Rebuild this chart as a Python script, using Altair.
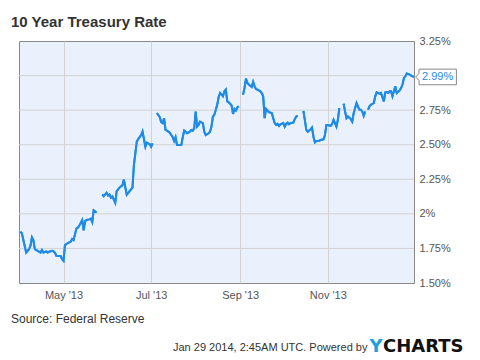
import altair as alt
import pandas as pd

# ---- data (None marks a break in the line) ----
dates = [
    "2013-04-01", "2013-04-02", "2013-04-05", "2013-04-07", "2013-04-08", "2013-04-09", "2013-04-10",
    "2013-04-11", "2013-04-13", "2013-04-15", "2013-04-16", "2013-04-17", "2013-04-19", "2013-04-20",
    "2013-04-21", "2013-04-23", "2013-04-24", "2013-04-25", "2013-04-26", "2013-04-28", "2013-04-29",
    "2013-04-30", "2013-05-01", "2013-05-02", "2013-05-04", "2013-05-06", "2013-05-07", "2013-05-08",
    "2013-05-10", "2013-05-11", "2013-05-12", "2013-05-14", "2013-05-15", "2013-05-16", "2013-05-17",
    "2013-05-19", "2013-05-20", "2013-05-21", "2013-05-22", "2013-05-24", "2013-05-26",
    "2013-05-28", "2013-05-29", "2013-05-31", "2013-06-01", "2013-06-02", "2013-06-03", "2013-06-04",
    "2013-06-06", "2013-06-07", "2013-06-09", "2013-06-10", "2013-06-11", "2013-06-12", "2013-06-14",
    "2013-06-16", "2013-06-18", "2013-06-19", "2013-06-21", "2013-06-22", "2013-06-24", "2013-06-25",
    "2013-06-27", "2013-06-28", "2013-06-30", "2013-07-01", "2013-07-02", "2013-07-04",
    "2013-07-05", "2013-07-07", "2013-07-08", "2013-07-09", "2013-07-10", "2013-07-11", "2013-07-12",
    "2013-07-14", "2013-07-15", "2013-07-16", "2013-07-17", "2013-07-18", "2013-07-19", "2013-07-20",
    "2013-07-22", "2013-07-23", "2013-07-24", "2013-07-25", "2013-07-26", "2013-07-28", "2013-07-29",
    "2013-07-30", "2013-07-31", "2013-08-01", "2013-08-02", "2013-08-03", "2013-08-04", "2013-08-06",
    "2013-08-07", "2013-08-08", "2013-08-10", "2013-08-11", "2013-08-12", "2013-08-13", "2013-08-14",
    "2013-08-16", "2013-08-17", "2013-08-18", "2013-08-19", "2013-08-20", "2013-08-21", "2013-08-22",
    "2013-08-23", "2013-08-24", "2013-08-25", "2013-08-26", "2013-08-27", "2013-08-28", "2013-08-29",
    "2013-08-30", "2013-08-31", "2013-09-01",
    "2013-09-03", "2013-09-04", "2013-09-05", "2013-09-06", "2013-09-07", "2013-09-09", "2013-09-10",
    "2013-09-11", "2013-09-12", "2013-09-14", "2013-09-15", "2013-09-16", "2013-09-17", "2013-09-18",
    "2013-09-19", "2013-09-20", "2013-09-21", "2013-09-23", "2013-09-24", "2013-09-25", "2013-09-26",
    "2013-09-27", "2013-09-28", "2013-09-29", "2013-10-01", "2013-10-02", "2013-10-03", "2013-10-04",
    "2013-10-05", "2013-10-06", "2013-10-08", "2013-10-09", "2013-10-10", "2013-10-11", "2013-10-13",
    "2013-10-15", "2013-10-16", "2013-10-17", "2013-10-18", "2013-10-20", "2013-10-21", "2013-10-22",
    "2013-10-23", "2013-10-24", "2013-10-26", "2013-10-27", "2013-10-29", "2013-10-30", "2013-10-31",
    "2013-11-01", "2013-11-03", "2013-11-04", "2013-11-05", "2013-11-06", "2013-11-07", "2013-11-08",
    "2013-11-09", "2013-11-11",
    "2013-11-12", "2013-11-13", "2013-11-14", "2013-11-15", "2013-11-17", "2013-11-18", "2013-11-19",
    "2013-11-21", "2013-11-22", "2013-11-23", "2013-11-24", "2013-11-25", "2013-11-26", "2013-11-27",
    "2013-11-28",
    "2013-11-29", "2013-11-30", "2013-12-01", "2013-12-03", "2013-12-04", "2013-12-05", "2013-12-06",
    "2013-12-07", "2013-12-08", "2013-12-10", "2013-12-11", "2013-12-12", "2013-12-13", "2013-12-14",
    "2013-12-15", "2013-12-16", "2013-12-17", "2013-12-18", "2013-12-19", "2013-12-21", "2013-12-22",
    "2013-12-23", "2013-12-24", "2013-12-25", "2013-12-26", "2013-12-28", "2013-12-29", "2013-12-30",
    "2013-12-31",
]
rates = [
    1.87, 1.86, 1.72, 1.745, 1.77, 1.83, 1.81,
    1.745, 1.733, 1.72, 1.74, 1.72, 1.728, 1.72,
    1.726, 1.733, 1.728, 1.72, 1.697, 1.695, 1.695,
    1.672, 1.66, 1.774, 1.789, 1.798, 1.818, 1.81,
    1.895, 1.90, 1.915, 1.956, 1.88, 1.946, 1.956,
    1.96, 1.965, 1.94, 2.025, 2.01, None,
    2.14, 2.128, 2.153, 2.133, 2.14, 2.117, 2.126,
    2.08, 2.165, 2.19, 2.199, 2.206, 2.248, 2.139,
    2.165, 2.19, 2.352, 2.522, 2.541, 2.57, 2.595,
    2.485, 2.514, 2.503, 2.485, 2.51, None,
    2.729, 2.699, 2.663, 2.656, 2.692, 2.607, 2.602,
    2.587, 2.57, 2.554, 2.527, 2.554, 2.498, 2.498,
    2.498, 2.554, 2.602, 2.594, 2.583, 2.594, 2.607,
    2.602, 2.619, 2.74, 2.631, 2.643, 2.667, 2.656,
    2.594, 2.57, 2.583, 2.594, 2.631, 2.704, 2.716,
    2.789, 2.845, 2.874, 2.862, 2.85, 2.886, 2.898,
    2.813, 2.806, 2.796, 2.784, 2.723, 2.758, 2.747,
    2.769, 2.777, None,
    2.862, 2.91, 2.978, 2.947, 2.935, 2.918, 2.954,
    2.922, 2.903, 2.893, 2.886, 2.874, 2.85, 2.692,
    2.758, 2.747, 2.736, 2.729, 2.692, 2.656, 2.643,
    2.65, 2.636, 2.648, 2.656, 2.631, 2.65, 2.66,
    2.648, 2.656, 2.66, 2.685, 2.704, 2.709, None,
    2.745, 2.68, 2.607, 2.594, 2.612, 2.624, 2.558,
    2.517, 2.527, 2.529, 2.534, 2.539, 2.57, 2.643,
    2.643, 2.636, 2.65, 2.68, 2.656, 2.631, 2.68,
    2.765, None,
    2.796, 2.74, 2.692, 2.704, 2.685, 2.667, 2.728,
    2.801, 2.777, 2.753, 2.753, 2.74, 2.709, 2.74,
    None,
    2.753, 2.777, 2.789, 2.801, 2.85, 2.879, 2.874,
    2.869, 2.874, 2.813, 2.879, 2.881, 2.874, 2.886,
    2.886, 2.85, 2.886, 2.922, 2.874, 2.893, 2.91,
    2.935, 2.983, 2.995, 3.015, 3.007, 3.0, 2.995,
    2.99,
]
x_ticks = ["2013-05-01", "2013-07-01", "2013-09-01", "2013-11-01"]
y_ticks = [1.5, 1.75, 2.0, 2.25, 2.5, 2.75, 3.0, 3.25]
title_text = "10 Year Treasury Rate"
source_text = "Source: Federal Reserve"
footer_text = "Jan 29 2014, 2:45AM UTC.  Powered by"

FONT = "Liberation Sans"
BLUE = "#1e8be6"
GRID = "#d2d2d2"

df = pd.DataFrame({"date": dates, "rate": rates})
df["segment"] = df["rate"].isna().cumsum()
df = df.dropna().reset_index(drop=True)
last = df.iloc[[-1]].copy()
grid_df = pd.DataFrame({"rate": y_ticks[1:-1]})


def dt(s):
    y, m, d = (int(v) for v in s.split("-"))
    return alt.DateTime(year=y, month=m, date=d, utc=True)


x_enc = alt.X(
    "date:T",
    scale=alt.Scale(type="utc", domain=[dt("2013-03-31"), dt("2013-12-31")]),
    axis=alt.Axis(
        values=[dt(s) for s in x_ticks], tickCount=20,
        labelExpr="utcFormat(datum.value, \"%b '%y\")",
        grid=True, gridColor=GRID, gridWidth=1, gridOpacity=1,
        ticks=False, domain=False, labelPadding=6, labelOverlap=False,
        labelFont=FONT, labelFontSize=11, labelColor="#555555",
        title=None,
    ),
)
y_scale = alt.Scale(domain=[1.5, 3.25], nice=False, zero=False)
y_enc = alt.Y(
    "rate:Q",
    scale=y_scale,
    axis=alt.Axis(
        orient="right", values=y_ticks, tickCount=20,
        labelExpr="datum.value == 3 ? '' : ((datum.value % 1 == 0 ? format(datum.value, 'd') : format(datum.value, '.2f')) + '%')",
        grid=False,
        ticks=False, domain=False, labelPadding=5, labelOverlap=False,
        labelFont=FONT, labelFontSize=11, labelColor="#555555",
        title=None,
    ),
)

line = alt.Chart(df).mark_line(color=BLUE, strokeWidth=2, clip=True).encode(
    x=x_enc, y=y_enc, detail="segment:N"
)

hgrid = alt.Chart(grid_df).mark_rule(color=GRID, strokeWidth=1).encode(
    y=alt.Y("rate:Q", scale=y_scale)
)

box_path = "M 0.5 -0.78 L 4.24 -0.78 L 4.24 0.78 L 0.5 0.78 L 0.5 0.35 L 0.17 0 L 0.5 -0.35 Z"
box = alt.Chart(last).mark_point(
    shape=box_path, size=400, filled=True, fill="white", stroke="#888888",
    strokeWidth=1, opacity=1,
).encode(x="date:T", y="rate:Q")

label = alt.Chart(last).transform_calculate(
    lbl="format(datum.rate, '.2f') + '%'"
).mark_text(
    align="left", baseline="middle", dx=8, color=BLUE, font=FONT, fontSize=11
).encode(x="date:T", y="rate:Q", text="lbl:N")


def txt(s, x, y, **kw):
    return alt.Chart(pd.DataFrame({"t": [s]})).mark_text(
        align="left", baseline="alphabetic", **kw
    ).encode(text="t:N", x=alt.value(x), y=alt.value(y))


title = txt(title_text, -8, -14.5, font=FONT, fontSize=15, fontWeight="bold", color="#333333")
source = txt(source_text, -8, 281.5, font=FONT, fontSize=12, color="#333333")
footer = txt(footer_text, 154, 309.7, font=FONT, fontSize=11, color="#333333")
logo_y = txt("Y", 350.5, 311, font="DejaVu Sans", fontSize=18, fontWeight="bold", color="#1aa0dc")
logo_c = txt("CHARTS", 364, 311, font="DejaVu Sans", fontSize=18, fontWeight="bold", color="#111111")

# the line is drawn again above the horizontal grid rules
chart = alt.layer(line, hgrid, line, box, label, title, source, footer, logo_y, logo_c).properties(
    width=395, height=242,
    autosize=alt.AutoSizeParams(type="none"),
    padding={"left": 11, "top": 33, "right": 58, "bottom": 76},
).configure_view(stroke="#888888", strokeWidth=1, fill="#eaf1fc")

chart.save("out.html", embed_options={"renderer": "svg", "actions": False})
